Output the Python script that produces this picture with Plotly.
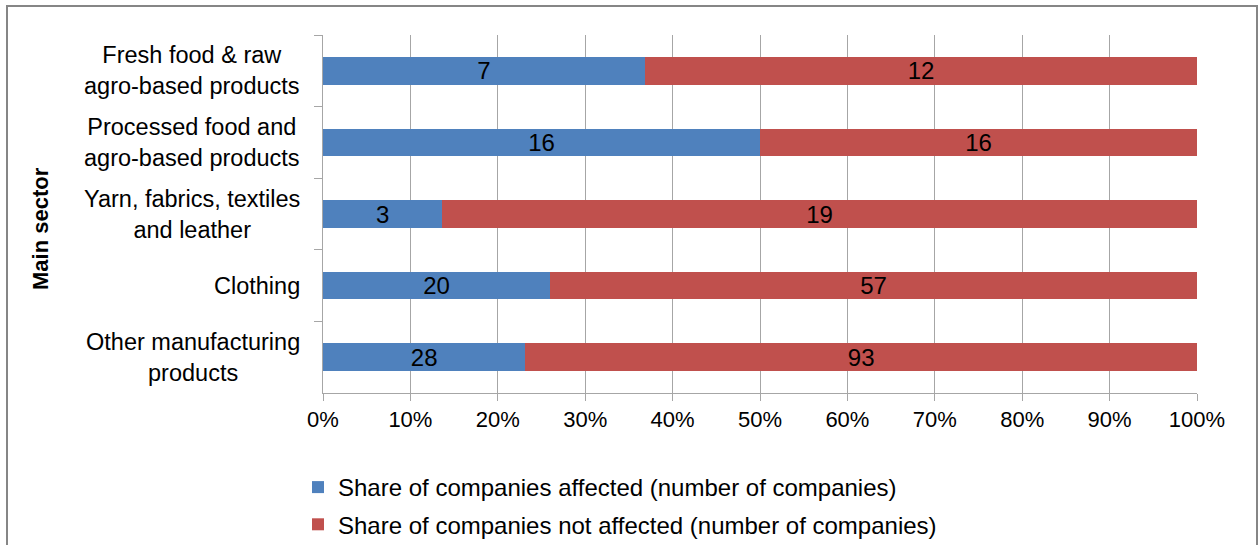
import plotly.graph_objects as go

categories = [
    "Fresh food & raw<br>agro-based products",
    "Processed food and<br>agro-based products",
    "Yarn, fabrics, textiles<br>and leather",
    "Clothing",
    "Other manufacturing<br>products",
]
affected = [7, 16, 3, 20, 28]
not_affected = [12, 16, 19, 57, 93]
series_names = [
    "Share of companies affected (number of companies)",
    "Share of companies not affected (number of companies)",
]
x_tick_values = [0, 10, 20, 30, 40, 50, 60, 70, 80, 90, 100]
x_tick_labels = ["0%", "10%", "20%", "30%", "40%", "50%", "60%", "70%", "80%", "90%", "100%"]
axis_title = "Main sector"

W, H = 1259, 545
L, R, T, B = 323, 62, 35, 152
pw, ph = W - L - R, H - T - B

def px_x(px):
    return (px - L) / pw

def px_y(py):
    return (H - B - py) / ph

FONT = "Liberation Sans, Arial, sans-serif"
colors = ["#4F81BD", "#C0504D"]

fig = go.Figure()
for name, vals, col, grp in [
    (series_names[0], affected, colors[0], "a"),
    (series_names[1], not_affected, colors[1], "b"),
]:
    fig.add_trace(go.Bar(
        y=categories, x=vals, orientation="h", name=name,
        marker=dict(color=col, line=dict(width=0)),
        text=vals, texttemplate="%{text}", textposition="inside",
        insidetextanchor="middle", constraintext="none", textangle=0,
        textfont=dict(color="black", size=24, family=FONT),
        legendgroup=grp, hoverinfo="skip",
    ))

annotations = []
for c in categories:
    annotations.append(dict(
        x=0, xref="paper", y=c, yref="y", text=c, showarrow=False,
        xanchor="right", yanchor="middle", align="center", xshift=-21,
        font=dict(size=23.5, color="black", family=FONT),
    ))
annotations.append(dict(
    x=px_x(41), y=px_y(229), xref="paper", yref="paper",
    text="<b>" + axis_title + "</b>", textangle=-90, showarrow=False,
    xanchor="center", yanchor="middle",
    font=dict(size=22, color="black", family=FONT),
))

fig.update_layout(
    width=W, height=H,
    margin=dict(l=L, r=R, t=T, b=B, autoexpand=False),
    barmode="stack", barnorm="percent", bargap=0.615,
    paper_bgcolor="white", plot_bgcolor="white",
    font=dict(family=FONT, size=22, color="black"),
    showlegend=True,
    legend=dict(
        orientation="v", x=px_x(298), xanchor="left", y=px_y(465), yanchor="top",
        font=dict(size=24, family=FONT, color="black"),
        traceorder="grouped", tracegroupgap=3, bgcolor="rgba(0,0,0,0)",
    ),
    annotations=annotations,
    shapes=[dict(
        type="rect", xref="paper", yref="paper",
        x0=px_x(7), x1=px_x(1257), y0=px_y(560), y1=px_y(6),
        line=dict(color="#868686", width=2), layer="below",
    )],
)
fig.update_xaxes(
    range=[0, 100], tickvals=x_tick_values, ticktext=x_tick_labels,
    showgrid=True, gridcolor="#A6A6A6", gridwidth=1, zeroline=False,
    showline=True, linecolor="#A6A6A6", linewidth=1,
    ticks="outside", ticklen=7, tickcolor="#A6A6A6",
    tickfont=dict(size=22, family=FONT, color="black"),
    fixedrange=True,
)
fig.update_yaxes(
    categoryorder="array", categoryarray=categories, autorange="reversed",
    showticklabels=False, showgrid=False, zeroline=False,
    showline=True, linecolor="#A6A6A6", linewidth=1,
    ticks="outside", ticklen=8, tickcolor="#A6A6A6", tickson="boundaries",
    fixedrange=True,
)

fig.write_html("out.html")
